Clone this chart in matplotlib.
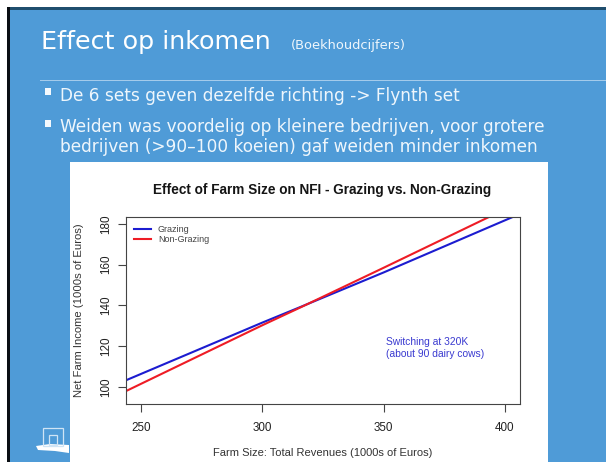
import numpy as np
import matplotlib
matplotlib.use('Agg')
import matplotlib.pyplot as plt
from matplotlib.patches import Rectangle, Polygon

W = 606
H = 462

title = 'Effect op inkomen'
subtitle = '(Boekhoudcijfers)'
bullets = ['De 6 sets geven dezelfde richting -> Flynth set',
           'Weiden was voordelig op kleinere bedrijven, voor grotere',
           'bedrijven (>90\u2013100 koeien) gaf weiden minder inkomen']

farm_size = [243.8, 300, 316, 350, 393.4, 403.2]
grazing = [103.3, 131.6, 139.4, 156.2, 178.4, 183.4]
non_grazing = [98.0, 130.3, 139.2, 158.5, 183.4, 189.0]

x_ticks = [250, 300, 350, 400]
y_ticks = [100, 120, 140, 160, 180]

def fx(x):
    return x / W

def fy(y):
    return 1 - y / H

def box(x0, y0, x1, y1, color, z=0):
    fig.add_artist(Rectangle((fx(x0), fy(y1)), (x1 - x0) / W, (y1 - y0) / H,
                             transform=fig.transFigure, color=color, lw=0, zorder=z))

fig = plt.figure(figsize=(W / 100, H / 100), dpi=100, facecolor='white')

# slide background
box(7, 7, W, H, '#1f4e6e', 0)
box(7, 7, 10, H, '#0a0f14', 1)
box(10, 10, W, H, '#4f9bd7', 1)
box(40, 80, W, 81, '#a4cbeb', 2)

fig.text(fx(41), fy(49), title, color='white', fontsize=18.3, family='DejaVu Sans', zorder=3)
fig.text(fx(291), fy(49.3), subtitle, color='#eef6fc', fontsize=9.4, family='DejaVu Sans', zorder=3)

box(44.5, 88.5, 51, 95, '#f4f9fd', 3)
box(44.5, 120, 51, 126.5, '#f4f9fd', 3)
fig.text(fx(60), fy(101), bullets[0], color='#eef6fc', fontsize=12.25, family='DejaVu Sans', zorder=3)
fig.text(fx(60), fy(132.5), bullets[1], color='#eef6fc', fontsize=12.25, family='DejaVu Sans', zorder=3)
fig.text(fx(60), fy(152.5), bullets[2], color='#eef6fc', fontsize=12.25, family='DejaVu Sans', zorder=3)

# little logo bottom left
fig.add_artist(Polygon([(fx(36), fy(446)), (fx(50), fy(444)), (fx(69), fy(445)), (fx(69), fy(453)),
                        (fx(55), fy(451)), (fx(38), fy(450))],
                       transform=fig.transFigure, color='white', lw=0, zorder=3))
for (a, b, c, d) in [(43, 428, 63, 446), (49, 435, 57, 445)]:
    fig.add_artist(Rectangle((fx(a), fy(d)), (c - a) / W, (d - b) / H, transform=fig.transFigure,
                             fill=False, ec='#cfe4f5', lw=0.9, zorder=3))

# white picture with the R plot
box(70, 162, 548, H, 'white', 4)

ax = fig.add_axes([fx(126), fy(404), (520 - 126) / W, (404 - 217) / H], zorder=5)
ax.plot(farm_size, grazing, color='#1c1cd0', lw=1.5)
ax.plot(farm_size, non_grazing, color='#ee1c25', lw=1.5)
ax.set_xlim(243.8, 406.2)
ax.set_ylim(91.66, 183.4)

ax.set_xticks(x_ticks)
ax.set_yticks(y_ticks)
ax.tick_params(axis='x', length=6, width=0.8, color='#444444', labelsize=8.4, pad=7, labelcolor='#222222')
ax.tick_params(axis='y', length=6, width=0.8, color='#444444', labelsize=8.4, pad=4, labelcolor='#222222')
for lab in ax.get_xticklabels() + ax.get_yticklabels():
    lab.set_family('Liberation Sans')
for lab in ax.get_yticklabels():
    lab.set_rotation(90)
    lab.set_va('center')
for s in ax.spines.values():
    s.set_linewidth(0.8)
    s.set_color('#444444')

fig.text(fx(322.5), fy(194), 'Effect of Farm Size on NFI - Grazing vs. Non-Grazing', ha='center', va='baseline',
         fontsize=9.8, fontweight='bold', family='Liberation Sans', color='#151515', zorder=6)
fig.text(fx(322.5), fy(456), 'Farm Size: Total Revenues (1000s of Euros)', ha='center', va='baseline',
         fontsize=8.0, family='Liberation Sans', color='#333333', zorder=6)
fig.text(fx(78.5), fy(310), 'Net Farm Income (1000s of Euros)', ha='center', va='center', rotation=90,
         fontsize=8.1, family='Liberation Sans', color='#333333', zorder=6)

# legend by hand, like R's legend()
fig.add_artist(plt.Line2D([fx(134), fx(151)], [fy(228.5), fy(228.5)], color='#1c1cd0', lw=1.5, zorder=6))
fig.add_artist(plt.Line2D([fx(134), fx(151)], [fy(239), fy(239)], color='#ee1c25', lw=1.5, zorder=6))
fig.text(fx(158), fy(229.5), 'Grazing', va='center', fontsize=6.5, family='Liberation Sans', color='#444444', zorder=6)
fig.text(fx(158), fy(240), 'Non-Grazing', va='center', fontsize=6.5, family='Liberation Sans', color='#444444', zorder=6)

fig.text(fx(386.5), fy(345), 'Switching at 320K', fontsize=7.4, family='Liberation Sans', color='#3a3ad0', zorder=6)
fig.text(fx(386.5), fy(357), '(about 90 dairy cows)', fontsize=7.4, family='Liberation Sans', color='#3a3ad0', zorder=6)

fig.savefig('out.png', dpi=100)
